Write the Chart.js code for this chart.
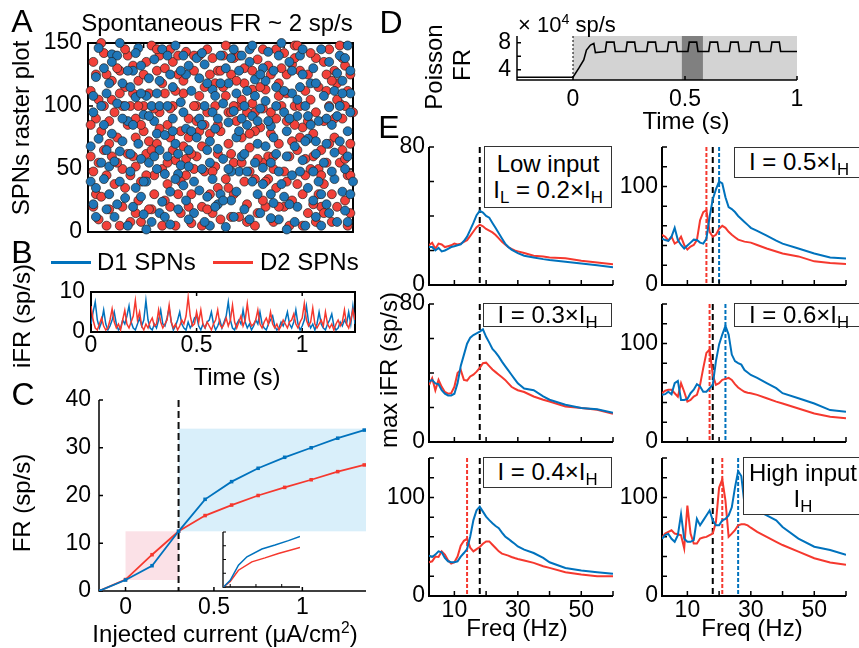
<!DOCTYPE html>
<html>
<head>
<meta charset="utf-8">
<script src="https://cdn.jsdelivr.net/npm/chart.js@4.4.1/dist/chart.umd.min.js"></script>
<style>
body { margin: 0; background: #fff; width: 859px; height: 648px; overflow: hidden; position: relative;
  font-family: "Liberation Sans", Arial, sans-serif; }
canvas { position: absolute; }
.t { position: absolute; white-space: nowrap; transform: translate(-50%, -50%); line-height: 1; color: #000; font-size: 24px; }
.r { transform: translate(-50%, -50%) rotate(-90deg); }
.box { position: absolute; border: 1px solid #333; background: #fff; box-sizing: border-box; display: flex;
  flex-direction: column; align-items: center; justify-content: center; font-size: 24px; line-height: 1.1; white-space: nowrap; }
sub { font-size: 0.7em; position: relative; top: 0.3em; vertical-align: baseline; line-height: 0; }
sup { font-size: 0.65em; position: relative; top: -0.55em; vertical-align: baseline; line-height: 0; }
.leg { position: absolute; height: 3px; }
</style>
</head>
<body>
<script>
// ---- data ----
// A: raster (x = time bin, y = neuron index), pairs x,y
var rasterD1 = [3,12, 9,141, 15,88, 22,40, 27,120, 31,6, 38,65, 44,133, 49,22, 55,96, 61,145, 66,51, 72,10, 77,110, 83,74, 88,30, 94,126, 98,60,
  5,55, 11,102, 17,20, 20,132, 26,78, 33,148, 36,37, 42,90, 47,113, 52,4, 58,60, 63,121, 69,84, 74,28, 80,140, 85,48, 91,99, 97,17,
  2,95, 8,30, 13,118, 19,70, 24,8, 29,46, 35,103, 40,15, 46,72, 50,140, 56,32, 60,85, 67,104, 71,62, 76,135, 82,5, 87,88, 93,42, 99,110,
  6,130, 12,64, 18,107, 23,55, 28,24, 32,90, 37,125, 43,50, 48,82, 53,118, 59,18, 64,70, 68,143, 73,38, 79,92, 84,118, 90,70, 95,140,
  4,74, 10,12, 16,48, 21,93, 25,137, 30,60, 34,18, 39,112, 45,28, 51,58, 57,128, 62,40, 65,98, 70,23, 75,80, 81,57, 86,12, 92,85, 96,32,
  1,40, 7,110, 14,27, 19,146, 24,100, 29,77, 35,53, 41,138, 46,5, 51,102, 56,75, 61,10, 66,130, 71,115, 77,45, 82,100, 88,145, 93,63, 98,80,
  3,123, 9,78, 15,5, 20,58, 26,110, 31,32, 37,82, 42,122, 47,42, 53,87, 58,140, 63,55, 69,11, 74,95, 79,20, 85,130, 90,22, 96,120,
  8,52, 13,90, 18,35, 23,122, 28,145, 33,70, 38,10, 44,100, 49,66, 54,25, 60,112, 64,30, 70,128, 75,60, 80,115, 86,72, 91,135, 97,50,
  2,22, 6,85, 11,140, 16,115, 21,14, 27,65, 32,115, 36,140, 42,33, 47,95, 52,130, 57,48, 62,92, 67,68, 72,140, 78,8, 83,35, 89,108, 94,8, 99,95,
  4,146, 10,56, 14,100, 20,28, 25,88, 30,140, 34,46, 39,80, 45,118, 50,30, 55,145, 59,100, 65,15, 69,55, 74,112, 80,48, 84,85, 89,55, 95,100, 99,30,
  1,68, 7,18, 12,40, 17,128, 22,108, 26,50, 31,125, 36,95, 41,75, 46,55, 51,25, 56,110, 61,135, 66,38, 71,100, 76,22, 81,145, 86,118, 92,48, 97,138,
  5,100, 9,135, 16,62, 21,40, 27,15, 32,80, 37,25, 43,142, 48,108, 54,48, 58,90, 63,108, 68,88, 73,150, 78,68, 83,92, 88,5, 94,92, 98,148,
  3,35, 8,118, 13,72, 18,142, 23,92, 29,12, 34,62, 38,132, 43,85, 48,20, 53,50, 57,80, 62,148, 67,120, 72,48, 77,128, 82,72, 87,40, 93,112, 98,8,
  2,108, 7,65, 12,150, 17,85, 22,2, 27,100, 33,42, 38,52, 44,8, 49,90, 54,138, 59,62, 64,88, 69,30, 75,2, 79,105, 85,25, 90,90, 95,72, 99,128,
  6,42, 11,22, 15,128, 20,110, 25,60, 30,100, 35,128, 40,40, 45,65, 50,118, 55,12, 60,48, 65,125, 70,75, 76,90, 81,125, 86,62, 91,15, 96,110, 100,40];
var rasterD2 = [1,60, 6,142, 10,95, 14,35, 19,120, 23,72, 28,5, 32,135, 37,45, 41,100, 45,145, 50,80, 54,12, 59,130, 63,95, 68,42, 72,118, 77,25, 81,83, 86,138, 90,55, 95,102, 99,15,
  4,105, 8,18, 12,128, 17,60, 21,100, 25,30, 30,85, 34,125, 39,7, 43,68, 48,118, 52,42, 57,100, 61,67, 66,145, 70,50, 75,125, 79,65, 84,105, 88,20, 93,75, 97,132,
  2,135, 7,45, 11,75, 16,8, 20,40, 24,148, 29,110, 33,57, 38,90, 42,140, 47,15, 51,115, 55,55, 60,22, 64,137, 69,78, 73,100, 78,148, 82,45, 87,115, 92,30, 96,65,
  3,30, 9,120, 13,50, 18,90, 22,135, 27,95, 31,20, 36,68, 40,128, 44,85, 49,35, 53,95, 58,75, 62,113, 67,20, 71,90, 76,5, 80,128, 85,60, 89,88, 94,118, 98,45,
  5,80, 10,38, 15,140, 19,25, 23,110, 28,50, 32,100, 37,143, 41,60, 46,125, 50,10, 55,138, 59,40, 65,83, 69,125, 74,48, 78,100, 83,15, 87,50, 91,145, 96,90,
  1,112, 6,65, 12,5, 16,100, 21,80, 26,128, 30,38, 35,80, 39,30, 44,115, 48,52, 53,70, 57,12, 62,128, 66,55, 71,35, 75,110, 80,75, 84,142, 89,38, 93,128, 99,125,
  4,10, 8,88, 14,115, 18,15, 22,62, 27,140, 31,75, 36,110, 40,50, 45,95, 49,128, 54,62, 58,105, 63,5, 67,113, 72,70, 77,133, 81,30, 86,95, 90,112, 95,55, 98,5,
  2,48, 7,125, 11,55, 17,132, 20,85, 25,45, 29,130, 34,30, 38,75, 43,20, 47,138, 52,108, 56,88, 61,48, 65,115, 70,8, 74,142, 79,38, 83,125, 88,65, 92,8, 97,100,
  5,150, 9,60, 13,100, 18,75, 24,18, 28,118, 33,5, 37,58, 42,108, 46,78, 51,140, 55,30, 60,95, 64,15, 68,60, 73,130, 78,85, 82,58, 87,30, 91,100, 95,148, 99,70,
  3,90, 7,5, 12,110, 16,45, 21,125, 26,70, 31,145, 35,15, 40,100, 44,48, 49,85, 54,125, 58,55, 63,80, 67,40, 72,108, 76,60, 81,5, 85,78, 90,125, 94,20, 98,112,
  2,20, 6,100, 11,130, 15,62, 20,8, 25,98, 30,55, 34,140, 39,62, 43,5, 48,100, 53,35, 57,140, 62,102, 66,25, 71,145, 75,88, 80,100, 85,22, 89,135, 93,90, 97,25,
  1,85, 5,28, 9,105, 14,145, 18,52, 23,18, 27,82, 32,65, 36,120, 41,88, 46,30, 50,128, 55,100, 60,8, 64,58, 69,95, 74,20, 78,138, 83,88, 88,45, 92,120, 97,58,
  3,125, 8,70, 13,20, 17,110, 22,45, 26,145, 31,98, 35,40, 40,140, 45,18, 49,62, 54,95, 59,118, 63,42, 68,132, 72,20, 77,72, 82,112, 86,8, 91,70, 96,138, 100,95,
  4,55, 10,140, 15,85, 19,100, 24,65, 29,25, 33,112, 38,20, 42,80, 47,48, 52,148, 56,120, 61,78, 66,98, 70,60, 75,40, 79,148, 84,50, 89,15, 94,105, 99,45];
var rasterTicksY = [0, 50, 100, 150];

// B: iFR every 10 ms from 0 to 1.25 s
var bD1 = [2,5,7.5,3,1,2.5,5.5,2,0.5,1.5,3,5,2,0.5,1,3,2,4,6.5,2.5,1,0.5,2,3.5,1.5,3,7.9,3,1,0.5,2,1,3,5.5,2,1.5,3.5,6,2.5,0.5,
  1.5,3,5,2,1,0.5,2.5,1,2,3.5,4,1.5,0.5,2,1,2.5,3,5,2,0.5,1.5,3,1,2.5,4,7.5,3,1,0.5,2,3,2,5.5,2.5,1,2,0.5,1.5,3,2,
  5,2,1,0.5,2,3,4,1.5,0.5,1,2.5,1.5,3,5,2,1,2.5,5.5,2,0.5,1.5,3,6.5,2.5,1,2,0.5,2,5,2,1,0.5,2,3,4.5,1.5,0.5,1,2.5,1.5,
  3,2,5,2,6.5,2];
var bD2 = [6.5,3,1,0.5,2,3.5,1.5,0.5,1,3,5.8,2.5,1,2,0.5,3,5.4,2,1,2.5,4,7.9,3,5,1.5,0.5,2,1,2.5,3.5,1.5,2,5.5,2.5,1,2,3,6.7,2.5,1,
  2,0.5,1.5,3,2,4,8.7,4,1.5,2,5,2.5,5.5,2,1,2.5,1.5,0.5,2,3,5.5,2,1,2,3.5,1.5,3,6.7,2.5,1,2.5,4,1.5,3,7.1,3,1.5,2,3,5.5,
  2,1,2.5,3.5,2,5,2,1,2,0.5,1.5,3,2,1,2.5,3,4.5,2,1,2.5,3.5,7.1,3,1.5,2.5,6,2,1,2,3,1.5,5,2,1,2,0.5,2,3,1.5,2.5,
  5.5,2,1,3,5.5,3];

// C: firing rate vs injected current
var cCurrent = [-0.15, 0, 0.15, 0.3, 0.45, 0.6, 0.75, 0.9, 1.05, 1.2, 1.35];
var cD1 = [0, 2.3, 5.3, 12.5, 19.2, 22.9, 25.7, 28, 30, 32, 33.7];
var cD2 = [0, 2.4, 7.6, 12.5, 15.8, 18, 20, 21.7, 23.3, 25, 26.4];
var cHighX = [0.3, 1.36], cHighY = [12.5, 34];
var cLowX = [0, 0.3], cLowY = [2.3, 12.5];
var cThreshold = 0.3;
var insetX1 = [-0.26, 0, 0.32, 0.65, 1.23, 1.74, 2.26, 2.71];
var insetD1 = [0, 0.49, 1.59, 2.2, 2.76, 3.05, 3.37, 3.68];
var insetX2 = [-0.26, 0, 0.32, 0.84, 1.35, 1.87, 2.71];
var insetD2 = [0, 0.41, 1.22, 1.83, 2.12, 2.44, 2.88];

// D: Poisson input rate (x 10^4 sp/s)
var poissonT = [-0.25, 0, 0.004, 0.026, 0.048, 0.06, 0.078, 0.093, 0.1, 0.137,
  0.144, 0.150, 0.183, 0.189, 0.236, 0.242, 0.275, 0.281, 0.329, 0.335, 0.368, 0.374,
  0.421, 0.427, 0.460, 0.466, 0.513, 0.519, 0.552, 0.558, 0.606, 0.612, 0.645, 0.651,
  0.698, 0.704, 0.737, 0.743, 0.790, 0.796, 0.829, 0.835, 0.882, 0.888, 0.921, 0.927, 1.0];
var poissonFR = [2.9, 2.9, 2.9, 4.25, 5.47, 6.93, 7.66, 7.9, 6.54, 6.68,
  6.7, 8.1, 8.1, 6.7, 6.7, 8.1, 8.1, 6.7, 6.7, 8.1, 8.1, 6.7,
  6.7, 8.1, 8.1, 6.7, 6.7, 8.1, 8.1, 6.7, 6.7, 8.1, 8.1, 6.7,
  6.7, 8.1, 8.1, 6.7, 6.7, 8.1, 8.1, 6.7, 6.7, 8.1, 8.1, 6.7, 6.7];
var stimWindow = [0, 1];
var analysisWindow = [0.486, 0.58];

// E: max iFR vs stimulation frequency
var freqs = [2,3,4,5,6,7,8,9,10,11,12,13,14,15,16,17,18,19,20,21,22,23,24,25,26,27,28,29,30,32,35,38,40,45,50,55,60];
var e02D1 = [22,22,20,21.5,19.5,20,21,22,22.5,23,23.5,25.5,28,32,36,40.5,43,42,40,39,36,33,30,27,24,22,20.5,19.5,18.5,17,16,15,14.5,13.5,12.5,11.5,10.3];
var e02D2 = [23,24.5,21,24,23.5,22,22.5,23,24,23.5,24,25,26,28.5,31,33.5,35,34,32.5,31.5,30.5,29,27,25,23.5,22,21,20,19.5,18.5,17,16.5,16,15.5,14,13,12];
var e05D1 = [47,45.6,44.7,49,58,45.6,40.6,37,40,43,46,45.6,43,42,47,69,87,97,105,103,89,79,77,74,70,67,64,61,58,55,50,45,42,37,32,28,27];
var e05D2 = [51,49,45,49,42,44,49,40.6,36,39,40.6,45.6,65.7,74,76,54,49,51,57,60,58,54,51,48.5,46,45,44,43.5,43,40.6,37,34,32,29,24,22.3,21.3];
var e03D1 = [35,36,34,33.5,30,28,27,27,28,34,44,50.5,57,60.5,62,63,64,65.3,61,57.6,54,52,49.5,46.6,44,41.5,39,36.5,34,31,30,26.4,24.5,21.6,19.7,19,17];
var e03D2 = [33,37,30,36,32,29,28,28.3,32,40,41.8,36,35.6,38,39,40.8,43,45.7,46,44,42,40.5,39,37.5,36,34,32,31,30,29,26.4,24.5,23.5,20.6,19.7,18.7,16.4];
var e06D1 = [47.8,48.5,51,48.5,59.7,62,42.7,42.7,43.7,49.5,53,58.7,56.3,51,51,54.6,58,82,99,109,117.7,109,88.7,82,80,78.5,73,70.5,68,65,59.7,54.6,49.5,44.4,39,32.4,30.7];
var e06D2 = [49.5,52,53,53,49.5,46,59.7,51,41,42.7,46,47.8,58,75,90.4,93.8,68,58,59.7,63,64,65,63,58.7,55.3,53,51,50,49.5,47.8,44.4,41,39,34,29,25.6,24];
var e04D1 = [41,39.6,42,45.3,44.3,38.6,35.2,34.2,34.2,35.2,40,43.6,47.6,60.4,77,87,90.6,85.6,80.5,77,73.8,71,68.8,64.4,60.4,58,55.4,53,50.3,47,43.6,38.6,34.2,28.5,25.8,24.2,22.5];
var e04D2 = [34.2,35.2,40,39.6,45.3,42,36.2,32.9,34.2,40,51,56,58,49,45.3,47.6,49.7,53,55.4,55.4,52,48.7,45.3,43,42,41,39.6,38.5,37.6,36,33.6,30.2,28.5,24.2,21.8,20.1,20.1];
var e10D1 = [58,61.7,63,58,55,61.7,83,58,55,55,56.7,78.3,71.7,76.7,81.7,86.7,76.7,71.7,71.7,76.7,78.3,81.7,90,110,126.7,121.7,93.3,85,86.7,86.7,81.7,76.7,70,58.3,50,46.7,41.7];
var e10D2 = [59.3,63.3,65,66.7,63.3,62.7,61.7,48.3,91.7,63.3,53.3,53.3,58.3,59.3,60,61.7,63.3,75,110,118.3,96.7,60,63.3,66.7,71.7,72.7,72.7,71.7,69.3,65,60,55,51.7,45,38.3,34,31.7];
// resonance frequencies: input (black), D1 peak, D2 peak
var peakInput = 18;
var peakD1 = {e05: 20, e06: 22, e10: 26};
var peakD2 = {e05: 16, e06: 17, e04: 14, e10: 21};

var blue = '#0072BD', red = '#F5382E';
var dotBlue = '#1f76b8', dotRed = '#f2413a';

Chart.defaults.font.family = '"Liberation Sans", Arial, sans-serif';
Chart.defaults.font.size = 23;
Chart.defaults.color = '#000';

// draws matlab-like axes, inward ticks, shaded spans and vertical marker lines
var axesPlugin = {
  id: 'axes',
  beforeDatasetsDraw: function(chart, args, o) {
    var ctx = chart.ctx, a = chart.chartArea, x = chart.scales.x, y = chart.scales.y;
    ctx.save();
    (o.rects || []).forEach(function(r) {
      var x0 = x.getPixelForValue(r.x[0]), x1 = x.getPixelForValue(r.x[1]);
      var y0 = r.y ? y.getPixelForValue(r.y[0]) : a.bottom, y1 = r.y ? y.getPixelForValue(r.y[1]) : a.top;
      ctx.fillStyle = r.color;
      ctx.fillRect(x0, y1, x1 - x0, y0 - y1);
    });
    (o.vlines || []).forEach(function(v) {
      var px = x.getPixelForValue(v.x);
      ctx.strokeStyle = v.color; ctx.lineWidth = v.width || 2;
      ctx.setLineDash(v.dash || [6, 4]);
      ctx.beginPath(); ctx.moveTo(px, a.top); ctx.lineTo(px, a.bottom); ctx.stroke();
    });
    ctx.setLineDash([]);
    ctx.strokeStyle = '#000';
    ctx.lineWidth = o.lw || 2;
    var L = o.tick || 5;
    ctx.beginPath();
    if (o.box) ctx.rect(a.left, a.top, a.width, a.height);
    else { ctx.moveTo(a.left, a.top); ctx.lineTo(a.left, a.bottom); ctx.lineTo(a.right, a.bottom); }
    ctx.stroke();
    ctx.lineWidth = o.tw || 1.5;
    ctx.beginPath();
    x.ticks.forEach(function(t) {
      var p = x.getPixelForValue(t.value);
      ctx.moveTo(p, a.bottom); ctx.lineTo(p, a.bottom - L);
      if (o.box) { ctx.moveTo(p, a.top); ctx.lineTo(p, a.top + L); }
    });
    y.ticks.forEach(function(t) {
      var p = y.getPixelForValue(t.value);
      ctx.moveTo(a.left, p); ctx.lineTo(a.left + L, p);
      if (o.box) { ctx.moveTo(a.right, p); ctx.lineTo(a.right - L, p); }
    });
    ctx.stroke();
    ctx.restore();
  }
};

var M = {l: 80, t: 24, r: 24, b: 44};

function scaleOpt(axis, s) {
  return {
    type: 'linear', min: s.min, max: s.max,
    grid: {display: false, drawTicks: false},
    border: {display: false},
    afterFit: function(sc) { if (axis === 'x') sc.height = M.b; else sc.width = M.l; },
    afterBuildTicks: function(sc) { sc.ticks = s.ticks.map(function(v) { return {value: v}; }); },
    ticks: {
      padding: s.pad == null ? 4 : s.pad, autoSkip: false, maxRotation: 0, minRotation: 0,
      font: {size: s.size || 23},
      callback: function(v) {
        if (!s.labels) return String(v);
        return s.labels.indexOf(v) >= 0 ? String(v) : '';
      }
    }
  };
}

// x, y, w, h = plot area in page pixels
function plot(x, y, w, h, datasets, opt) {
  var c = document.createElement('canvas');
  c.width = w + M.l + M.r; c.height = h + M.t + M.b;
  c.style.left = (x - M.l) + 'px'; c.style.top = (y - M.t) + 'px';
  document.body.appendChild(c);
  return new Chart(c, {
    type: 'scatter',
    data: {datasets: datasets},
    plugins: [axesPlugin],
    options: {
      responsive: false, animation: false, events: [],
      layout: {padding: {left: 0, top: M.t, right: M.r, bottom: 0}},
      plugins: {legend: {display: false}, tooltip: {enabled: false}, axes: opt.axes || {}},
      scales: {x: scaleOpt('x', opt.x), y: scaleOpt('y', opt.y)}
    }
  });
}

function line(xs, ys, color, width, extra) {
  var d = {data: xs.map(function(v, i) { return {x: v, y: ys[i]}; }), borderColor: color, backgroundColor: color,
    borderWidth: width, showLine: true, pointRadius: 0, tension: 0};
  for (var k in (extra || {})) d[k] = extra[k];
  return d;
}

function dots(pairs, color) {
  var pts = [];
  for (var i = 0; i < pairs.length; i += 2) pts.push({x: pairs[i], y: pairs[i + 1]});
  return {data: pts, pointRadius: 4.5, pointBackgroundColor: color, pointBorderColor: '#222', pointBorderWidth: 0.7, clip: false};
}

function text(html, x, y, o) {
  o = o || {};
  var d = document.createElement('div');
  d.className = 't' + (o.rot ? ' r' : '');
  d.innerHTML = html;
  d.style.left = x + 'px'; d.style.top = y + 'px';
  if (o.size) d.style.fontSize = o.size + 'px';
  if (o.left) d.style.transform = 'translate(0,-50%)';
  document.body.appendChild(d);
}

function box(lines, x, y, w, h) {
  var d = document.createElement('div');
  d.className = 'box';
  d.style.left = x + 'px'; d.style.top = y + 'px'; d.style.width = w + 'px'; d.style.height = h + 'px';
  d.innerHTML = lines.map(function(l) { return '<div>' + l + '</div>'; }).join('');
  document.body.appendChild(d);
}

// ---- A ----
plot(88, 43, 265, 189, [dots(rasterD1, dotBlue), dots(rasterD2, dotRed)], {
  x: {min: 0, max: 100, ticks: [21, 74], labels: []},
  y: {min: 0, max: 150, ticks: rasterTicksY, pad: 6},
  axes: {box: true, lw: 2}
});

// ---- B ----
var bTime = bD1.map(function(v, i) { return i / 100; });
plot(91, 292, 264, 40, [line(bTime, bD2, red, 1.5), line(bTime, bD1, blue, 1.5)], {
  x: {min: 0, max: 1.25, ticks: [0, 0.5, 1], pad: 0},
  y: {min: 0, max: 10, ticks: [0, 10], pad: 6},
  axes: {box: true, lw: 2, tick: 4}
});

// ---- C ----
var sq = {pointStyle: 'rect', pointRadius: 2.5, pointBorderWidth: 0};
plot(99, 400, 267, 191, [line(cCurrent, cD1, blue, 1.8, sq), line(cCurrent, cD2, red, 1.8, sq)], {
  x: {min: -0.15, max: 1.36, ticks: [0, 0.5, 1], pad: 3},
  y: {min: 0, max: 40, ticks: [0, 10, 20, 30, 40], pad: 8},
  axes: {lw: 1.5, tick: 4, rects: [
    {x: cHighX, y: cHighY, color: '#d9effa'},
    {x: cLowX, y: cLowY, color: '#fbe1e7'}
  ], vlines: [{x: cThreshold, color: '#111', width: 2, dash: [7, 4]}]}
});
plot(223, 532, 77, 55, [line(insetX1, insetD1, blue, 1.5), line(insetX2, insetD2, red, 1.5)], {
  x: {min: -0.28, max: 2.71, ticks: [0, 1, 2], labels: []},
  y: {min: 0, max: 4, ticks: [0, 1, 2, 3, 4], labels: []},
  axes: {lw: 1.3, tw: 1, tick: 3}
});

// ---- D ----
plot(517, 36, 280, 44, [line(poissonT, poissonFR, '#000', 1.6)], {
  x: {min: -0.25, max: 1, ticks: [0, 0.5, 1], pad: 6},
  y: {min: 2.5, max: 9, ticks: [4, 6, 8], labels: [4, 8], pad: 6},
  axes: {lw: 1.5, tick: 4, rects: [
    {x: stimWindow, color: '#d3d3d3'},
    {x: analysisWindow, color: '#808080'}
  ], vlines: [{x: 0, color: '#000', width: 1, dash: [2, 2]}]}
});

// ---- E ----
function ePanel(x, y, d1, d2, yMax, yLabels, xLabels, marks) {
  var yt = [];
  for (var v = 0; v <= yMax; v += 20) yt.push(v);
  plot(x, y, 184, 138, [line(freqs, d1, blue, 2), line(freqs, d2, red, 2)], {
    x: {min: 2, max: 60, ticks: [10, 20, 30, 40, 50, 60], labels: xLabels, pad: 1},
    y: {min: 0, max: yMax, ticks: yt, labels: yLabels, pad: 4},
    axes: {lw: 2, tick: 5, vlines: marks}
  });
}
var blk = function(f) { return {x: f, color: '#000', width: 2, dash: [6, 4]}; };
var rd = function(f) { return {x: f, color: red, width: 2, dash: [4, 2]}; };
var bl = function(f) { return {x: f, color: blue, width: 2, dash: [4, 2]}; };
ePanel(429, 147, e02D1, e02D2, 80, [0, 80], [], [blk(peakInput)]);
ePanel(662, 147, e05D1, e05D2, 140, [0, 100], [], [rd(peakD2.e05), blk(peakInput), bl(peakD1.e05)]);
ePanel(429, 304, e03D1, e03D2, 80, [0, 80], [], [blk(peakInput)]);
ePanel(662, 304, e06D1, e06D2, 140, [0, 100], [], [rd(peakD2.e06), blk(peakInput), bl(peakD1.e06)]);
ePanel(429, 458, e04D1, e04D2, 140, [0, 100], [10, 30, 50], [rd(peakD2.e04), blk(peakInput)]);
ePanel(662, 458, e10D1, e10D2, 140, [0, 100], [10, 30, 50], [blk(peakInput), rd(peakD2.e10), bl(peakD1.e10)]);

// ---- text ----
text('A', 22, 21, {size: 32});
text('Spontaneous FR ~ 2 sp/s', 217, 23);
text('SPNs raster plot', 21, 128, {rot: true});
text('B', 22, 252, {size: 32});
var l1 = document.createElement('div'); l1.className = 'leg'; l1.style.cssText = 'left:51px;top:261px;width:40px;background:' + blue;
var l2 = document.createElement('div'); l2.className = 'leg'; l2.style.cssText = 'left:213px;top:261px;width:40px;background:' + red;
document.body.appendChild(l1); document.body.appendChild(l2);
text('D1 SPNs', 97, 262, {left: true});
text('D2 SPNs', 260, 262, {left: true});
text('iFR (sp/s)', 22, 316, {rot: true});
text('Time (s)', 237, 377);
text('C', 23, 394, {size: 32});
text('FR (sp/s)', 22, 503, {rot: true});
text('Injected current (&mu;A/cm<sup>2</sup>)', 225, 634);
text('D', 391, 22, {size: 32});
text('&times; 10<sup>4</sup> sp/s', 518, 25, {left: true, size: 22});
text('Poisson', 434, 67, {rot: true});
text('FR', 462, 65, {rot: true});
text('Time (s)', 686, 121);
text('E', 389, 127, {size: 32});
text('max iFR (sp/s)', 389, 370, {rot: true});
text('Freq (Hz)', 517, 628);
text('Freq (Hz)', 752, 628);

box(['Low input', 'I<sub>L</sub> = 0.2&times;I<sub>H</sub>'], 484, 146, 128, 62);
box(['I = 0.5&times;I<sub>H</sub>'], 734, 147, 130, 31);
box(['I = 0.3&times;I<sub>H</sub>'], 483, 303, 129, 24);
box(['I = 0.6&times;I<sub>H</sub>'], 734, 303, 130, 24);
box(['I = 0.4&times;I<sub>H</sub>'], 483, 457, 129, 31);
box(['High input', 'I<sub>H</sub>'], 743, 457, 120, 58);
</script>
</body>
</html>
